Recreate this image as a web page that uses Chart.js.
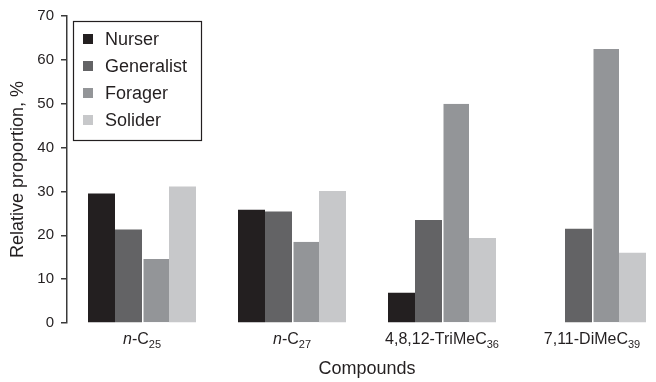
<!DOCTYPE html>
<html>
<head>
<meta charset="utf-8">
<script src="https://cdn.jsdelivr.net/npm/chart.js@4/dist/chart.umd.min.js"></script>
<style>
  html, body { margin: 0; padding: 0; background: #fff; overflow: hidden; }
  #wrap { position: absolute; left: 0; top: 0; width: 680px; height: 382px; }
</style>
</head>
<body>
<div id="wrap"><canvas id="chart" width="680" height="382"></canvas></div>
<script>
// Data
const compounds = ['n-C25', 'n-C27', '4,8,12-TriMeC36', '7,11-DiMeC39'];
const nurser = [29.5, 25.8, 6.9, null];
const generalist = [21.3, 25.4, 23.5, 21.5];
const forager = [14.6, 18.5, 50.0, 62.5];
const solider = [31.1, 30.1, 19.4, 16.0];
const yTicks = [0, 10, 20, 30, 40, 50, 60, 70];

const ink = '#231f20';
const fontFamily = '"Liberation Sans", Arial, Helvetica, sans-serif';

// split "n-C25" into italic prefix, plain text and subscript digits
function parseLabel(label) {
  const m = label.match(/^(n(?=-))?(.*\D)(\d+)$/);
  if (!m) return { italic: '', main: label, sub: '' };
  return { italic: m[1] || '', main: m[2], sub: m[3] };
}

// x tick labels with italic n and subscripts
const compoundLabels = {
  id: 'compoundLabels',
  afterDraw(chart) {
    const ctx = chart.ctx;
    const x = chart.scales.x;
    const y = chart.chartArea.bottom + 17;
    ctx.save();
    ctx.fillStyle = ink;
    ctx.textBaseline = 'middle';
    ctx.textAlign = 'left';
    chart.data.labels.forEach((label, i) => {
      const p = parseLabel(label);
      const fIt = 'italic 16px ' + fontFamily;
      const fMain = '16px ' + fontFamily;
      const fSub = '11px ' + fontFamily;
      ctx.font = fIt; const wIt = ctx.measureText(p.italic).width;
      ctx.font = fMain; const wMain = ctx.measureText(p.main).width;
      ctx.font = fSub; const wSub = ctx.measureText(p.sub).width;
      let cx = x.getPixelForValue(i) - (wIt + wMain + wSub) / 2;
      ctx.font = fIt; ctx.fillText(p.italic, cx, y); cx += wIt;
      ctx.font = fMain; ctx.fillText(p.main, cx, y); cx += wMain;
      ctx.font = fSub; ctx.fillText(p.sub, cx, y + 5);
    });
    ctx.restore();
  }
};

// boxed legend inside the plot
const boxLegend = {
  id: 'boxLegend',
  afterDraw(chart) {
    const ctx = chart.ctx;
    const left = 73, top = 21, w = 128, h = 119;
    ctx.save();
    ctx.fillStyle = '#fff';
    ctx.fillRect(left, top, w, h);
    ctx.strokeStyle = ink;
    ctx.lineWidth = 1.2;
    ctx.strokeRect(left + 0.5, top + 0.5, w, h);
    ctx.font = '18px ' + fontFamily;
    ctx.textBaseline = 'middle';
    chart.data.datasets.forEach((ds, i) => {
      const cy = 39 + i * 27;
      ctx.fillStyle = ds.backgroundColor;
      ctx.fillRect(83, cy - 5, 10, 10);
      ctx.fillStyle = ink;
      ctx.fillText(ds.label, 105, cy + 1);
    });
    ctx.restore();
  }
};

const ctx = document.getElementById('chart').getContext('2d');
new Chart(ctx, {
  type: 'bar',
  data: {
    labels: compounds,
    datasets: [
      { label: 'Nurser', data: nurser, backgroundColor: '#231f20' },
      { label: 'Generalist', data: generalist, backgroundColor: '#636365' },
      { label: 'Forager', data: forager, backgroundColor: '#939598',
        borderColor: '#fff', borderWidth: { left: 1.5, right: 0, top: 0, bottom: 0 } },
      { label: 'Solider', data: solider, backgroundColor: '#c7c8ca' }
    ]
  },
  options: {
    responsive: false,
    animation: false,
    layout: { padding: { top: 16, right: 13, left: 0, bottom: 0 } },
    datasets: { bar: { categoryPercentage: 0.72, barPercentage: 1.0 } },
    plugins: {
      legend: { display: false },
      tooltip: { enabled: false }
    },
    scales: {
      x: {
        grid: { display: false },
        border: { display: false },
        ticks: { display: false },
        afterFit: (scale) => { scale.height = 59; },
        title: {
          display: true,
          text: 'Compounds',
          color: ink,
          font: { family: fontFamily, size: 18 },
          padding: { top: 0, bottom: 2 }
        }
      },
      y: {
        min: 0,
        max: 70,
        afterBuildTicks: (scale) => { scale.ticks = yTicks.map(v => ({ value: v })); },
        afterFit: (scale) => { scale.width = 67; },
        border: { display: true, color: '#3a3a3a', width: 1.5 },
        grid: { drawOnChartArea: false, drawTicks: true, tickLength: 6, color: '#3a3a3a', lineWidth: 1.5 },
        ticks: { color: ink, padding: 7, font: { family: fontFamily, size: 15 } },
        title: {
          display: true,
          text: 'Relative proportion, %',
          color: ink,
          font: { family: fontFamily, size: 18 },
          padding: { top: 7, bottom: 0 }
        }
      }
    }
  },
  plugins: [compoundLabels, boxLegend]
});
</script>
</body>
</html>
